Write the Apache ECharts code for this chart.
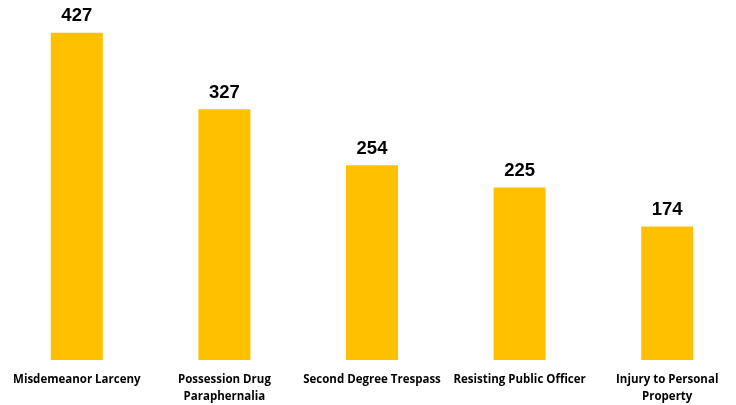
<!DOCTYPE html>
<html>
<head>
<meta charset="utf-8">
<script src="https://cdn.jsdelivr.net/npm/echarts@6/dist/echarts.min.js"></script>
<style>html,body{margin:0;padding:0;background:#fff;overflow:hidden}#c{width:741px;height:405px}</style>
</head>
<body>
<div id="c"></div>
<script>
const categories = ["Misdemeanor Larceny", "Possession Drug\nParaphernalia", "Second Degree Trespass", "Resisting Public Officer", "Injury to Personal\nProperty"];
const values = [427, 327, 254, 225, 174];

const chart = echarts.init(document.getElementById('c'));
chart.setOption({
  animation: false,
  grid: { left: 3, right: 0, top: 15, bottom: 45 },
  xAxis: {
    type: 'category',
    data: categories,
    axisLine: { show: false },
    axisTick: { show: false },
    axisLabel: {
      interval: 0,
      margin: 11,
      fontFamily: "'Open Sans', sans-serif",
      fontWeight: 'bold',
      fontSize: 11.5,
      lineHeight: 17,
      color: '#000'
    }
  },
  yAxis: { type: 'value', min: 0, max: 450, show: false, splitLine: { show: false } },
  series: [{
    type: 'bar',
    data: values,
    barWidth: 52,
    itemStyle: { color: '#FFC000' },
    label: {
      show: true,
      position: 'top',
      distance: 7,
      fontFamily: "'Liberation Sans', sans-serif",
      fontWeight: 'bold',
      fontSize: 18.5,
      color: '#000'
    }
  }]
});
</script>
</body>
</html>
